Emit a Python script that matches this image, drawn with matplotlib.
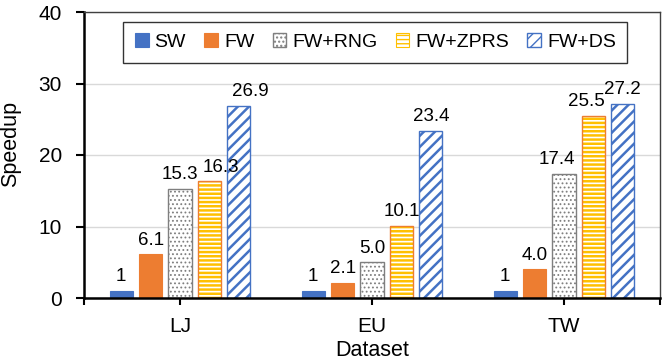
import matplotlib
matplotlib.use("Agg")
import matplotlib.pyplot as plt
from matplotlib.patches import Patch
import numpy as np

categories = ["LJ", "EU", "TW"]
series = ["SW", "FW", "FW+RNG", "FW+ZPRS", "FW+DS"]
sw = [1, 1, 1]
fw = [6.1, 2.1, 4.0]
fw_rng = [15.3, 5.0, 17.4]
fw_zprs = [16.3, 10.1, 25.5]
fw_ds = [26.9, 23.4, 27.2]
labels_sw = ["1", "1", "1"]
labels_fw = ["6.1", "2.1", "4.0"]
labels_rng = ["15.3", "5.0", "17.4"]
labels_zprs = ["16.3", "10.1", "25.5"]
labels_ds = ["26.9", "23.4", "27.2"]
yticks = [0, 10, 20, 30, 40]

plt.rcParams['font.family'] = ['Liberation Sans', 'DejaVu Sans']

fig = plt.figure(figsize=(6.65, 3.62), dpi=100)
ax = fig.add_axes([84/665, 1-298/362, 576/665, 286/362])

x = np.arange(len(categories))
width = 0.122
pitch = 0.153
offsets = [(i - 2) * pitch for i in range(5)]

blue = "#4472C4"
orange = "#ED7D31"
yellow = "#FFC000"

all_vals = [sw, fw, fw_rng, fw_zprs, fw_ds]
all_labels = [labels_sw, labels_fw, labels_rng, labels_zprs, labels_ds]
# horizontal nudges of data labels (points), as placed in the original chart
label_dx = [
    [0, 0, 0],
    [0, 0, 0],
    [0, 0, -5],
    [8, 0, -5],
    [8, 0, 0],
]

handles = []
b = ax.bar(x + offsets[0], sw, width, color=blue, edgecolor=blue, linewidth=0.8, zorder=3)
handles.append(b)
b = ax.bar(x + offsets[1], fw, width, color=orange, edgecolor=orange, linewidth=0.8, zorder=3)
handles.append(b)
with plt.rc_context({'hatch.linewidth': 0.8}):
    b = ax.bar(x + offsets[2], fw_rng, width, color="white", edgecolor="#7F7F7F",
               hatch="....", linewidth=1.0, zorder=3)
handles.append(b)
with plt.rc_context({'hatch.linewidth': 1.8}):
    ax.bar(x + offsets[3], fw_zprs, width, color="white", edgecolor=yellow,
           hatch="----", linewidth=0, zorder=3)
    ax.bar(x + offsets[3], fw_zprs, width, color="none", edgecolor=orange,
           linewidth=1.0, zorder=4)
    zprs_proxy = Patch(facecolor="white", edgecolor=yellow, hatch="----", linewidth=0.8)
handles.append(zprs_proxy)
with plt.rc_context({'hatch.linewidth': 1.8}):
    b = ax.bar(x + offsets[4], fw_ds, width, color="white", edgecolor=blue,
               hatch="///", linewidth=1.0, zorder=3)
handles.append(b)

for i in range(5):
    for j in range(len(categories)):
        ax.annotate(all_labels[i][j], (x[j] + offsets[i], all_vals[i][j]),
                    xytext=(label_dx[i][j], 4), textcoords="offset points",
                    ha="center", va="bottom", fontsize=13.5, color="black")

ax.set_xlim(-0.5, 2.5)
ax.set_ylim(0, 40)
ax.set_yticks(yticks)
ax.set_xticks(x)
ax.set_xticklabels(categories)
ax.set_xticks([-0.5, 2.5], minor=True)
ax.tick_params(axis="both", labelsize=15, colors="black")
ax.tick_params(axis="y", direction="out", length=6, width=1.5, pad=10)
ax.tick_params(axis="x", which="both", direction="out", length=5, width=1.5, pad=9)

ax.grid(axis="y", color="#D9D9D9", linewidth=1.0, zorder=0)
ax.set_axisbelow(True)

for s in ["left", "bottom"]:
    ax.spines[s].set_linewidth(1.8)
    ax.spines[s].set_color("black")
for s in ["top", "right"]:
    ax.spines[s].set_linewidth(1.0)
    ax.spines[s].set_color("#404040")
ax.spines["bottom"].set_zorder(5)

fig.text(11/665, 1-143.5/362, "Speedup", rotation=90, ha="center", va="center",
         fontsize=15.5, color="black")
fig.text(372/665, 1-351/362, "Dataset", ha="center", va="center",
         fontsize=15.5, color="black")

leg = ax.legend(handles, series, loc="center", bbox_to_anchor=(0.506, 0.895),
                ncol=5, fontsize=14, frameon=True, fancybox=False,
                edgecolor="black", handlelength=0.7, handleheight=0.7,
                handletextpad=0.3, columnspacing=0.95, borderpad=0.6)
leg.get_frame().set_linewidth(1.0)
leg.set_zorder(10)

fig.savefig("out.png", dpi=100)
